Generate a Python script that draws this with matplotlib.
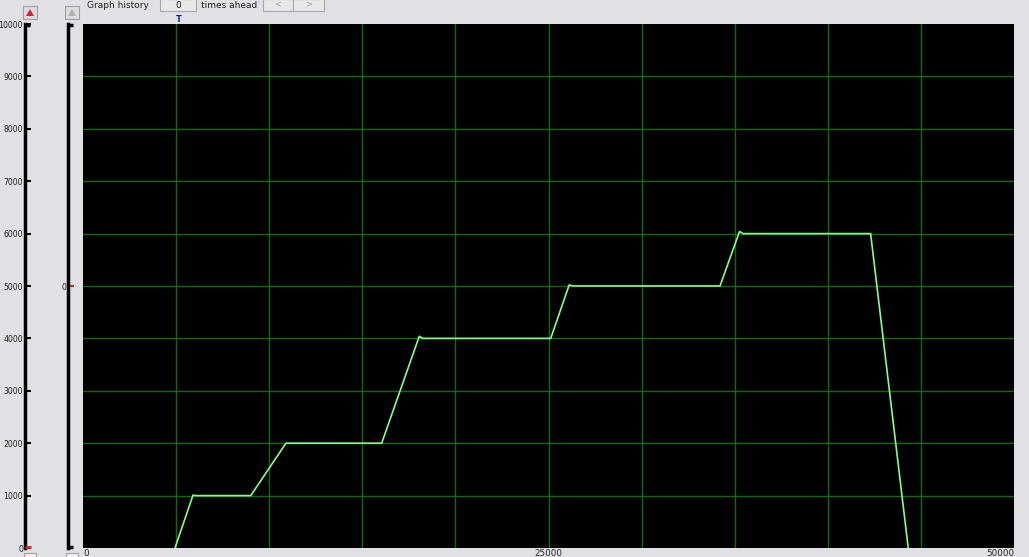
import matplotlib
matplotlib.use("Agg")
import matplotlib.pyplot as plt
from matplotlib.patches import Rectangle, Polygon

#### data

t_values = [4940, 5910, 6050, 9010, 10900, 11050, 16040, 18060, 18250, 25120,
            26110, 26350, 34210, 35260, 35450, 42300, 44320]
speed_values = [0, 1010, 1000, 1000, 2000, 2000, 2000, 4040, 4000, 4000,
                5020, 5000, 5000, 6040, 6000, 6000, 0]

x_ticks = [0, 25000, 50000]
x_grid = [5000, 10000, 15000, 20000, 25000, 30000, 35000, 40000, 45000]
y_ticks = [0, 1000, 2000, 3000, 4000, 5000, 6000, 7000, 8000, 9000, 10000]

#### figure

W, H = 1029, 557
bg = "#e1e1e5"
fig = plt.figure(figsize=(W / 100, H / 100), dpi=100, facecolor=bg)


def fx(px):
    return px / W


def fy(py):
    return 1 - py / H


# main plot
left, right, top, bottom = 83, 1014, 24, 548
ax = fig.add_axes([fx(left), fy(bottom), fx(right - left), (bottom - top) / H])
ax.set_facecolor("black")
ax.set_xlim(0, 50000)
ax.set_ylim(0, 10000)
for g in x_grid:
    ax.axvline(g, color="#0b6e0b", lw=1, zorder=1)
for g in y_ticks[1:-1]:
    ax.axhline(g, color="#0b6e0b", lw=1, zorder=1)
ax.plot(t_values, speed_values, color="#86ff86", lw=1.2, zorder=3)
ax.set_xticks(x_ticks)
ax.set_xticklabels([str(v) for v in x_ticks], fontsize=6.3, color="#222222")
ax.tick_params(axis="x", length=0, pad=1)
ax.set_yticks([])
for s in ax.spines.values():
    s.set_visible(False)
# 0 label sits on the left edge
ax.get_xticklabels()[0].set_horizontalalignment("left")
ax.get_xticklabels()[-1].set_horizontalalignment("right")

# left scale 1
ax1 = fig.add_axes([fx(25), fy(bottom), 0.0001, (bottom - top) / H])
ax1.set_ylim(0, 10000)
ax1.set_xticks([])
ax1.set_yticks(y_ticks)
ax1.set_yticklabels([str(v) for v in y_ticks], fontsize=5.6, color="#222222")
ax1.tick_params(axis="y", direction="in", length=4, width=1.5, pad=1.5)
for k, s in ax1.spines.items():
    s.set_visible(k == "left")
ax1.spines["left"].set_linewidth(2.5)
ax1.patch.set_visible(False)

# left scale 2
ax2 = fig.add_axes([fx(68), fy(bottom), 0.0001, (bottom - top) / H])
ax2.set_ylim(0, 10000)
ax2.set_xticks([])
ax2.set_yticks([5000])
ax2.set_yticklabels(["0"], fontsize=5.6, color="#222222")
ax2.tick_params(axis="y", direction="in", length=4, width=1.5, pad=1.5, color="#e02020")
for k, s in ax2.spines.items():
    s.set_visible(k == "left")
ax2.spines["left"].set_linewidth(2.5)
ax2.patch.set_visible(False)

# hooks on the scale bars and the red zero marker
ov = fig.add_axes([0, 0, 1, 1])
ov.set_xlim(0, W)
ov.set_ylim(H, 0)
ov.axis("off")
ov.patch.set_visible(False)
ov.plot([25, 30], [25, 25], color="black", lw=2.5, solid_capstyle="butt")
ov.plot([68, 73], [25, 25], color="black", lw=2.5, solid_capstyle="butt")
ov.plot([68, 73], [547, 547], color="black", lw=2.5, solid_capstyle="butt")
ov.plot([25, 31], [547, 547], color="#e02020", lw=2, solid_capstyle="butt")

# buttons along the top
ov.add_patch(Rectangle((23, 6), 14, 13, facecolor="#dcdcdc", edgecolor="#a0a0a0", lw=0.8))
ov.add_patch(Polygon([[26, 16], [34, 16], [30, 9]], closed=True, facecolor="#e02030"))
ov.add_patch(Rectangle((65, 6), 14, 13, facecolor="#dcdcdc", edgecolor="#a0a0a0", lw=0.8))
ov.add_patch(Polygon([[68, 16], [76, 16], [72, 9]], closed=True, facecolor="#b0b0b0"))
ov.text(87, 5, "Graph history", fontsize=6.5, va="center", ha="left", color="#222222")
ov.add_patch(Rectangle((160, -1), 36, 12, facecolor="#e8e8e8", edgecolor="#a8a8a8", lw=0.8))
ov.text(178, 5, "0", fontsize=6.5, va="center", ha="center", color="#222222")
ov.text(201, 5, "times ahead", fontsize=6.5, va="center", ha="left", color="#222222")
ov.add_patch(Rectangle((263, -1), 30, 12, facecolor="#e8e8e8", edgecolor="#a8a8a8", lw=0.8))
ov.add_patch(Rectangle((293, -1), 31, 12, facecolor="#e8e8e8", edgecolor="#a8a8a8", lw=0.8))
ov.text(278, 4, "<", fontsize=6, va="center", ha="center", color="#a0a0a0")
ov.text(309, 4, ">", fontsize=6, va="center", ha="center", color="#a0a0a0")
ov.text(179, 19, "T", fontsize=6, va="center", ha="center", color="#1a1aa0", fontweight="bold")

# small buttons at the bottom edge
ov.add_patch(Rectangle((24, 553), 12, 6, facecolor="#f0f0f0", edgecolor="#a0a0a0", lw=0.8))
ov.add_patch(Rectangle((66, 553), 12, 6, facecolor="#f0f0f0", edgecolor="#a0a0a0", lw=0.8))

fig.savefig("out.png", dpi=100, facecolor=bg)
